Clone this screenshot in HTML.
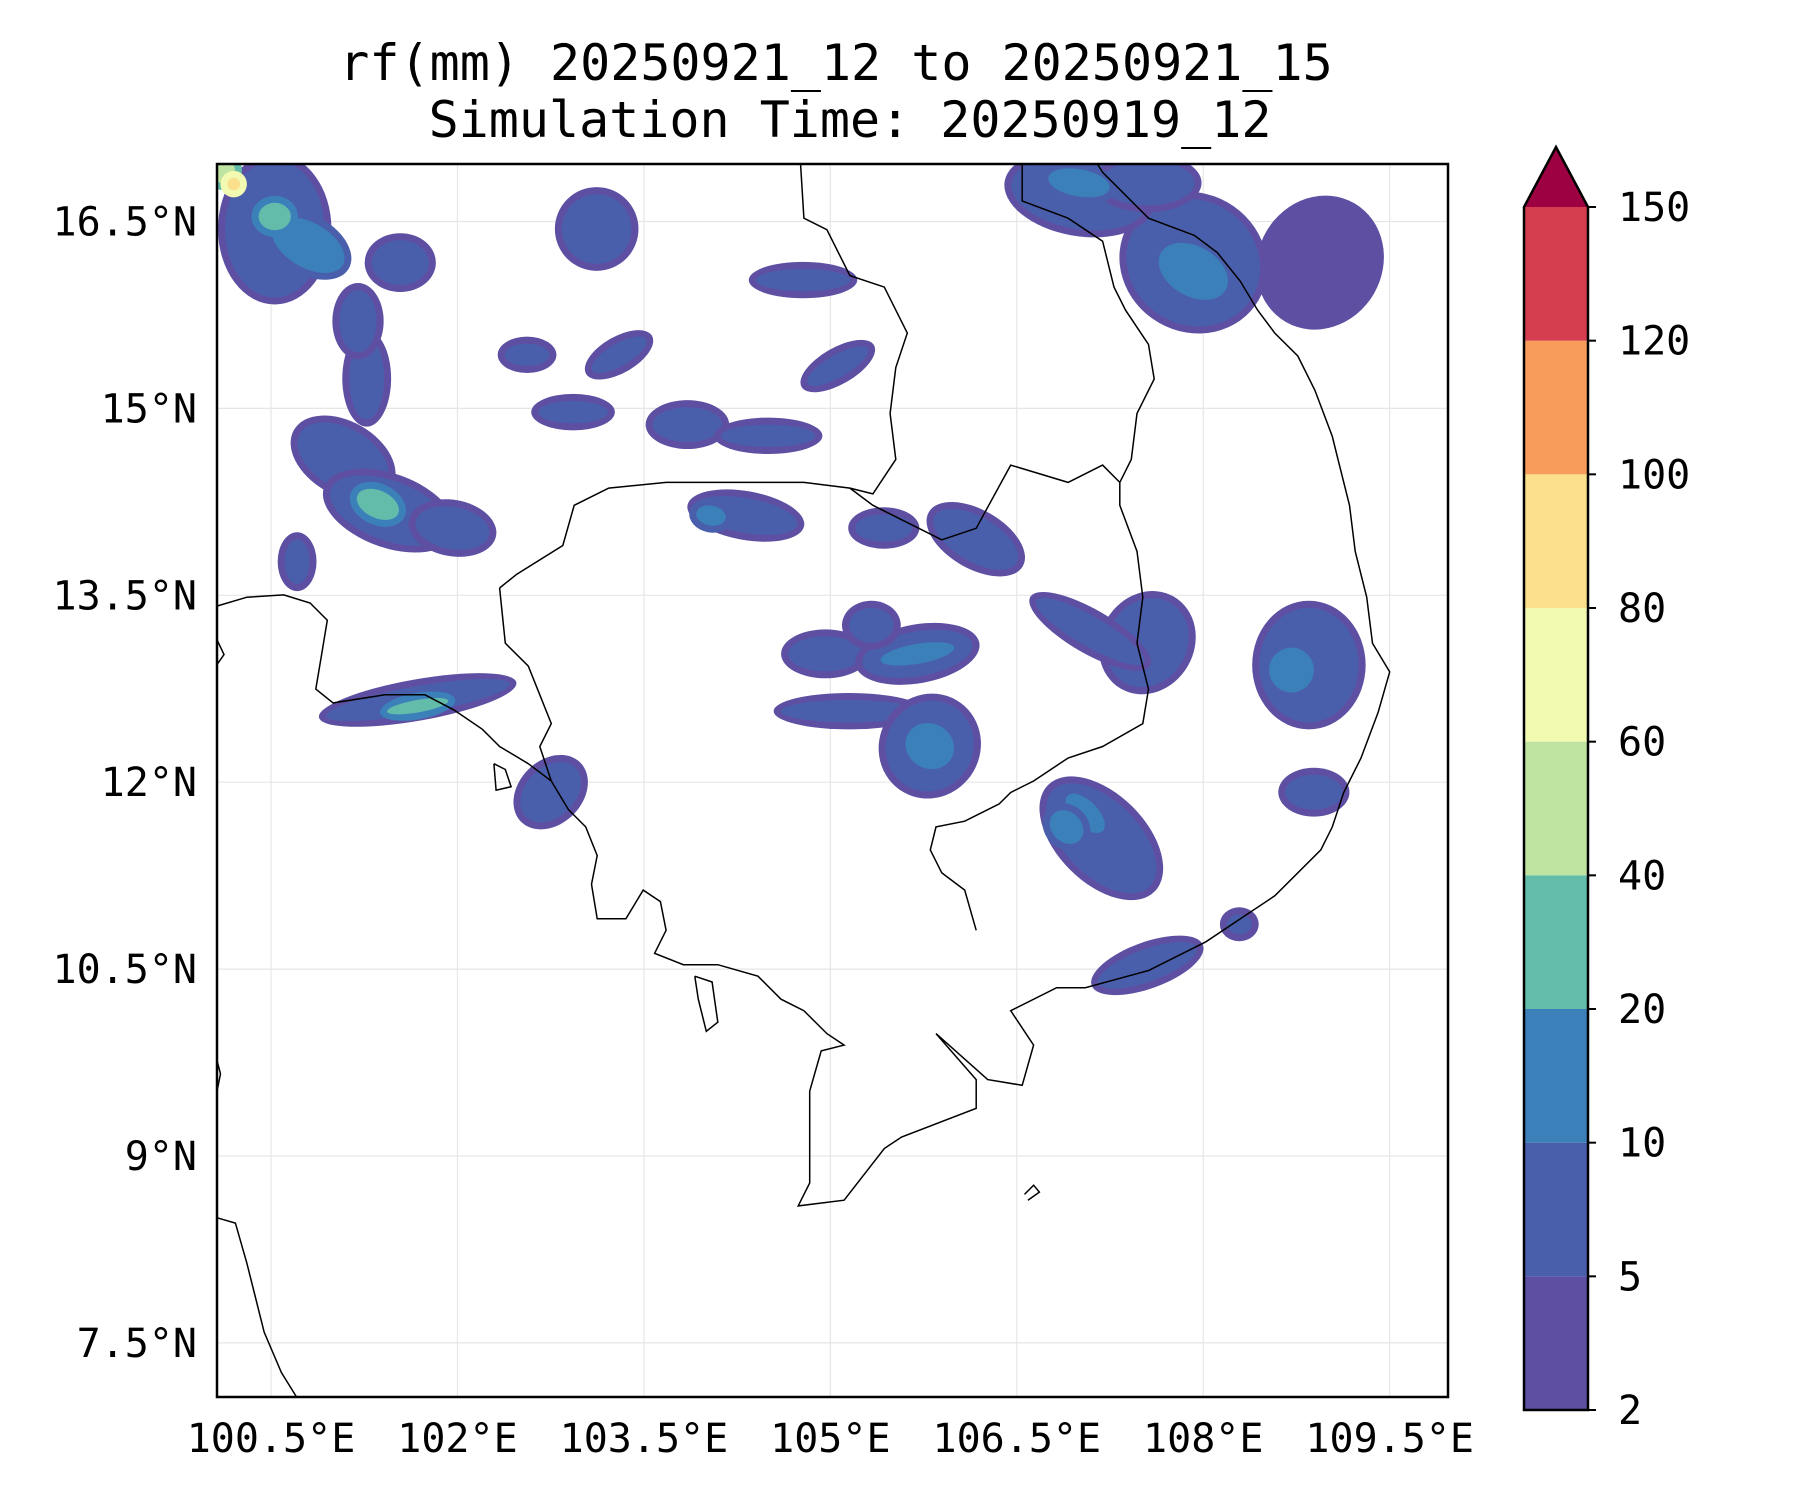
<!DOCTYPE html>
<html><head><meta charset="utf-8"><style>
html,body{margin:0;padding:0;background:#fff;}
svg{display:block;font-family:"DejaVu Sans Mono","Liberation Mono",monospace;}
</style></head><body>
<svg id="chart" width="1800" height="1500" viewBox="0 0 1800 1500" xmlns="http://www.w3.org/2000/svg">
<text x="836" y="80" font-size="50" text-anchor="middle">rf(mm) 20250921_12 to 20250921_15</text>
<text x="850" y="137" font-size="50" text-anchor="middle">Simulation Time: 20250919_12</text>
<defs><clipPath id="plotclip"><rect x="217" y="164" width="1231" height="1233"/></clipPath></defs>
<g id="grid"></g>
<g id="rain" clip-path="url(#plotclip)"></g>
<g id="geo" clip-path="url(#plotclip)" fill="none" stroke="#000" stroke-width="1.5"></g>
<rect x="217" y="164" width="1231" height="1233" fill="none" stroke="#000" stroke-width="2.5"/>
<g id="xticks"></g>
<g id="yticks"></g>
<g id="cbar"></g>
</svg>
<script>
// axis data
const lonTicks = [100.5, 102, 103.5, 105, 106.5, 108, 109.5];
const lonLabels = ["100.5°E","102°E","103.5°E","105°E","106.5°E","108°E","109.5°E"];
const latTicks = [16.5, 15, 13.5, 12, 10.5, 9, 7.5];
const latLabels = ["16.5°N","15°N","13.5°N","12°N","10.5°N","9°N","7.5°N"];
const levels = [2,5,10,20,40,60,80,100,120,150];
const levelColors = ["#5e4fa2","#4a5fab","#3b80b9","#62bca9","#bfe3a0","#f2f9b0","#fbdf8c","#f89c5b","#d53e4f"];
const extendColor = "#9e0142";
// rainfall blobs: lon, lat, radius lon (deg), radius lat (deg), rotation, level index
const blobLon = [101.08,101.45,101.96,101.36,100.53,100.80,100.53,101.27,101.54,101.20,101.68,101.68,102.75,100.71,104.96,105.15,105.70,105.70,105.80,105.80,105.33,107.18,107.05,106.90,107.55,107.09,108.85,108.71,108.89,107.55,108.29,107.92,107.92,108.94,107.0,107.0,107.55,104.32,104.04,103.85,104.50,103.30,102.56,103.12,104.78,105.06,106.17,105.43,102.93,100.11,100.20];
const blobLat = [14.60,14.18,14.04,14.23,16.44,16.31,16.54,15.24,16.17,15.70,12.66,12.61,11.92,13.77,13.03,12.57,13.03,13.03,12.29,12.29,13.26,11.55,11.75,11.64,13.12,13.21,12.94,12.90,11.92,10.53,10.86,16.17,16.10,16.17,16.72,16.81,16.81,14.14,14.14,14.87,14.78,15.43,15.43,16.44,16.03,15.34,13.95,14.04,14.97,16.91,16.80];
const blobRx = [0.40,0.50,0.30,0.18,0.40,0.32,0.13,0.14,0.23,0.15,0.75,0.25,0.20,0.10,0.30,0.55,0.45,0.30,0.35,0.20,0.18,0.55,0.20,0.15,0.32,0.50,0.40,0.18,0.23,0.42,0.10,0.55,0.30,0.50,0.55,0.25,0.38,0.42,0.12,0.28,0.38,0.25,0.18,0.28,0.38,0.28,0.38,0.23,0.28,0.10,0.05];
const blobRy = [0.24,0.24,0.17,0.11,0.55,0.18,0.11,0.33,0.18,0.25,0.11,0.05,0.28,0.18,0.14,0.09,0.18,0.08,0.37,0.18,0.14,0.30,0.10,0.12,0.37,0.12,0.46,0.18,0.14,0.13,0.08,0.50,0.20,0.55,0.28,0.11,0.18,0.14,0.08,0.14,0.09,0.09,0.09,0.28,0.09,0.09,0.18,0.11,0.09,0.10,0.05];
const blobRot = [30,20,10,25,0,30,0,0,0,0,-10,-10,45,0,0,0,-10,-10,30,30,0,45,45,45,30,30,0,0,0,-20,0,30,30,30,10,10,0,10,10,0,0,-30,0,0,0,-30,30,0,0,0,0];
const blobLvl = [1,1,1,3,1,2,3,1,1,1,1,3,1,1,1,1,1,2,1,2,1,1,2,2,1,1,1,2,1,1,1,1,2,0,1,2,1,1,2,1,1,1,1,1,1,1,1,1,1,4,6];

const NS="http://www.w3.org/2000/svg";
const X0=217, X1=1448, Y0=164, Y1=1397;
const PXD=124.3, PYD=124.6;
function xScale(lon){ return 271 + (lon-100.5)*PXD; }
function yScale(lat){ return 221.5 + (16.5-lat)*PYD; }
function mk(tag, attrs, parent){ const e=document.createElementNS(NS,tag); for(const k in attrs) e.setAttribute(k,attrs[k]); parent.appendChild(e); return e; }
const grid=document.getElementById('grid'), xt=document.getElementById('xticks'), yt=document.getElementById('yticks');
lonTicks.forEach((v,i)=>{
  const x=xScale(v);
  const l=mk('line',{x1:x,x2:x,y1:Y0,y2:Y1,stroke:'#e6e6e6','stroke-width':1.2},grid);
  
  
  const t=mk('text',{x:x,y:1452,'font-size':40,'text-anchor':'middle'},xt);
  t.textContent=lonLabels[i];
  
  
});
latTicks.forEach((v,i)=>{
  const y=yScale(v);
  const l=mk('line',{x1:X0,x2:X1,y1:y,y2:y,stroke:'#e6e6e6','stroke-width':1.2},grid);
  
  
  const t=mk('text',{x:197,y:y+14,'font-size':40,'text-anchor':'end'},yt);
  t.textContent=latLabels[i];
  
  
});
// rain: draw by level order
const rain=document.getElementById('rain');
const order=blobLon.map((_,i)=>i).sort((a,b)=>blobLvl[a]-blobLvl[b]);
order.forEach(i=>{
  const cx=xScale(blobLon[i]), cy=yScale(blobLat[i]);
  const rx=blobRx[i]*PXD, ry=blobRy[i]*PYD;
  const lv=blobLvl[i];
  const e=mk('ellipse',{cx:cx,cy:cy,rx:rx,ry:ry,fill:levelColors[lv],transform:`rotate(${blobRot[i]} ${cx} ${cy})`},rain);
  
  
  if(lv>=1){
    const o=mk('ellipse',{cx:cx,cy:cy,rx:rx+7,ry:ry+7,fill:levelColors[lv-1],transform:`rotate(${blobRot[i]} ${cx} ${cy})`},rain);
    rain.insertBefore(o,e);
    
    
  }
});
// geography (reference pixel coords of 1561-wide render -> scaled)
const S=1800/1561*0.996;
const coastPaths=[
 [[188,528],[215,520],[247,518],[270,525],[285,540],[280,570],[275,600],[290,612],[335,605],[370,605],[395,618],[420,635],[435,650],[460,665],[480,680],[495,705],[510,720],[520,745],[515,770],[520,800],[545,800],[560,775],[575,785],[580,810],[570,830],[595,840],[625,840],[660,850],[680,870],[700,880],[720,900],[735,910],[715,915],[705,950],[705,1030],[695,1050],[735,1045],[770,1000],[785,990],[850,965],[850,940],[815,900],[860,940],[890,945],[900,910],[880,880],[920,860],[945,860],[1000,845],[1050,820],[1080,800],[1110,780],[1150,740],[1160,720],[1170,690],[1185,660],[1200,620],[1210,585],[1195,560],[1190,520],[1180,480],[1175,440],[1165,400],[1160,380],[1145,340],[1130,310],[1110,290],[1095,270],[1080,245],[1060,220],[1040,205],[1000,190],[960,150],[955,142]],
 [[188,1060],[205,1065],[215,1100],[230,1160],[245,1195],[258,1216]],
 [[188,920],[192,935],[188,955]],
 [[188,555],[195,570],[188,580]],
 [[435,512],[450,500],[490,475],[500,440],[530,425],[580,420],[660,420],[700,420],[740,425],[760,440],[790,455],[820,470],[850,460],[880,405],[930,420],[960,405],[975,420],[975,440],[990,480],[995,520],[990,560],[1000,600],[995,630],[960,650],[930,660],[900,680],[880,690],[870,700],[840,715],[815,720],[810,740],[820,760],[840,775],[850,810]],
 [[435,512],[440,560],[460,580],[480,630],[470,650],[480,680]],
 [[697,142],[700,190],[720,200],[740,240],[770,250],[790,290],[780,320],[775,360],[780,400],[760,430],[740,425]],
 [[890,142],[890,175],[930,190],[960,210],[970,250],[980,270],[1000,300],[1005,330],[990,360],[985,400],[975,420]],
 [[605,850],[620,855],[625,890],[615,898],[608,870],[605,850]],
 [[430,665],[440,670],[445,685],[432,688],[430,665]],
 [[892,1040],[900,1032],[905,1038],[895,1045]]
];
const geo=document.getElementById('geo');
coastPaths.forEach(p=>{
  const e=mk('polyline',{points:p.map(q=>(q[0]*S).toFixed(1)+','+(q[1]*S).toFixed(1)).join(' ')},geo);
  
  
});
// colorbar
const cb=document.getElementById('cbar');
const CX0=1524, CX1=1588, CTOP=207, CBOT=1410;
function cbY(i){ return CBOT - i*(CBOT-CTOP)/(levels.length-1); }
levelColors.forEach((c,i)=>{
  const r=mk('rect',{x:CX0,y:cbY(i+1),width:CX1-CX0,height:cbY(i)-cbY(i+1),fill:c},cb);
  
  
});
const tri=mk('polygon',{points:`${CX0},${CTOP} ${CX1},${CTOP} ${(CX0+CX1)/2},147`,fill:extendColor},cb);


const out=mk('polygon',{points:`${CX0},${CBOT} ${CX0},${CTOP} ${(CX0+CX1)/2},147 ${CX1},${CTOP} ${CX1},${CBOT}`,fill:'none',stroke:'#000','stroke-width':2.5},cb);


levels.forEach((v,i)=>{
  const y=cbY(i);
  const tk=mk('line',{x1:CX1,x2:CX1+8,y1:y,y2:y,stroke:'#000','stroke-width':2},cb);
  
  
  const t=mk('text',{x:CX1+30,y:y+14,'font-size':40},cb);
  t.textContent=String(v);
  
  
});
</script>
</body></html>
